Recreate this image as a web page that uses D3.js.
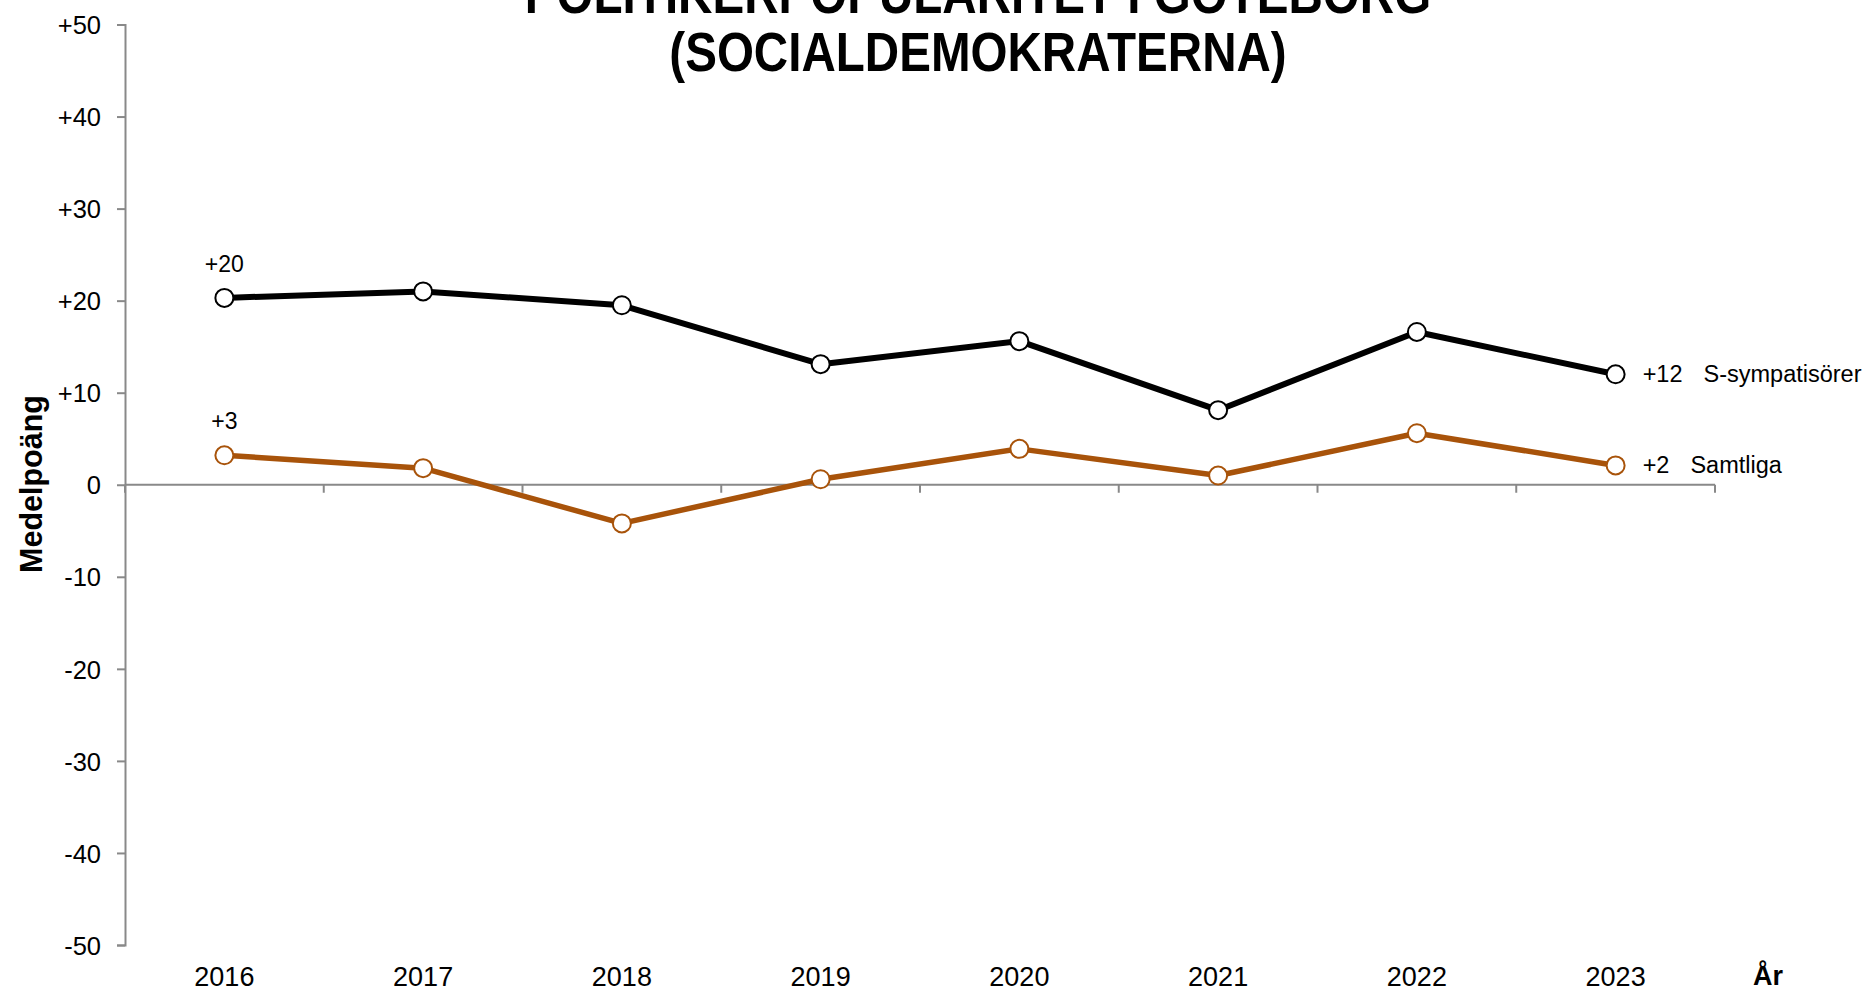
<!DOCTYPE html>
<html>
<head>
<meta charset="utf-8">
<script src="https://cdn.jsdelivr.net/npm/d3@7"></script>
<style>
  html, body { margin: 0; padding: 0; background: #fff; }
  svg { display: block; font-family: "Liberation Sans", Arial, sans-serif; }
</style>
</head>
<body>
<svg id="chart" width="1867" height="988"></svg>
<script>
// ---- Data ----
const years = ["2016", "2017", "2018", "2019", "2020", "2021", "2022", "2023"];
const sSympatisorer = [20.3, 21.0, 19.5, 13.1, 15.6, 8.1, 16.6, 12.0];
const samtliga = [3.2, 1.8, -4.2, 0.6, 3.9, 1.0, 5.6, 2.1];
const seriesNames = ["S-sympatisörer", "Samtliga"];
const yTickValues = [50, 40, 30, 20, 10, 0, -10, -20, -30, -40, -50];
const titleLines = ["POLITIKERPOPULARITET I GÖTEBORG", "(SOCIALDEMOKRATERNA)"];
const yAxisTitle = "Medelpoäng";
const xAxisTitle = "År";

// ---- Layout ----
const W = 1867, H = 988;
const plot = { left: 125, right: 1715, top: 24.5, bottom: 945 };
const svg = d3.select("#chart");

const x = d3.scaleBand().domain(years).range([plot.left, plot.right]).padding(0);
const y = d3.scaleLinear().domain([-50, 50]).range([plot.bottom, plot.top]);
const cx = d => x(d) + x.bandwidth() / 2;

const axisColor = "#898989";
const orange = "#A8530A";
const fmt = v => (v > 0 ? "+" + v : "" + v);

// ---- Y axis ----
const yAxis = d3.axisLeft(y).tickValues(yTickValues).tickSize(8).tickPadding(16).tickFormat(fmt);
const gy = svg.append("g").attr("transform", `translate(${plot.left},0)`).call(yAxis);
gy.select(".domain").attr("stroke", axisColor).attr("stroke-width", 2);
gy.selectAll(".tick line").attr("stroke", axisColor).attr("stroke-width", 2);
gy.selectAll(".tick text").attr("font-size", 25.5).attr("fill", "#000")
  .attr("font-family", "Liberation Sans, Arial, sans-serif").attr("dy", "0.36em");

// ---- X axis at zero ----
const boundaries = years.map(d => x(d)).concat([plot.right]);
const gx = svg.append("g");
gx.append("line").attr("x1", plot.left).attr("x2", plot.right)
  .attr("y1", y(0)).attr("y2", y(0)).attr("stroke", axisColor).attr("stroke-width", 2);
gx.selectAll("line.xt").data(boundaries).enter().append("line").attr("class", "xt")
  .attr("x1", d => d).attr("x2", d => d).attr("y1", y(0)).attr("y2", y(0) + 8)
  .attr("stroke", axisColor).attr("stroke-width", 2);

// Year labels at bottom
svg.append("g").selectAll("text").data(years).enter().append("text")
  .attr("x", d => cx(d)).attr("y", 986).attr("text-anchor", "middle")
  .attr("font-size", 27).attr("fill", "#000").text(d => d);

// ---- Titles ----
const titleG = svg.append("g").attr("transform", "translate(978,0) scale(0.865,1)");
titleG.selectAll("text").data(titleLines).enter().append("text")
  .attr("x", 0).attr("y", (d, i) => 13 + i * 58.5).attr("text-anchor", "middle")
  .attr("font-size", 55).attr("font-weight", "bold").attr("fill", "#000").text(d => d);

svg.append("text").attr("transform", "translate(42,484) rotate(-90)")
  .attr("text-anchor", "middle").attr("font-size", 30.5).attr("font-weight", "bold")
  .attr("fill", "#000").text(yAxisTitle);

svg.append("text").attr("x", 1753).attr("y", 985).attr("font-size", 27)
  .attr("font-weight", "bold").attr("fill", "#000").text(xAxisTitle);

// ---- Series ----
const series = [
  { name: seriesNames[0], values: sSympatisorer, color: "#000", width: 6 },
  { name: seriesNames[1], values: samtliga, color: orange, width: 5.5 }
];
const line = d3.line().x((v, i) => cx(years[i])).y(v => y(v));

series.forEach(s => {
  svg.append("path").datum(s.values).attr("d", line).attr("fill", "none")
    .attr("stroke", s.color).attr("stroke-width", s.width).attr("stroke-linejoin", "round");
  svg.append("g").selectAll("circle").data(s.values).enter().append("circle")
    .attr("cx", (v, i) => cx(years[i])).attr("cy", v => y(v)).attr("r", 9)
    .attr("fill", "#fff").attr("stroke", s.color).attr("stroke-width", 2);

  // first value label above first point
  const first = s.values[0];
  svg.append("text").attr("x", cx(years[0])).attr("y", y(first) - 26)
    .attr("text-anchor", "middle").attr("font-size", 23).attr("fill", "#000")
    .text(fmt(Math.round(first)));

  // last value + series name at right
  const last = s.values[s.values.length - 1];
  const t = svg.append("text").attr("x", cx(years[years.length - 1]) + 27).attr("y", y(last) + 8)
    .attr("font-size", 23.5).attr("fill", "#000");
  t.append("tspan").text(fmt(Math.round(last)));
  t.append("tspan").attr("dx", 21).text(s.name);
});
</script>
</body>
</html>
